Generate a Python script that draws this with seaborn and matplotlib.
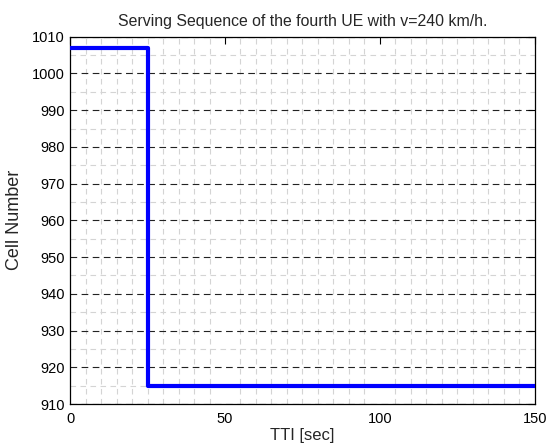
import matplotlib
matplotlib.use("Agg")
import matplotlib.pyplot as plt
import seaborn as sns
import pandas as pd
from matplotlib.ticker import MultipleLocator

sns.set_style("white")
plt.rcParams["font.family"] = ["Liberation Sans", "DejaVu Sans"]

# Serving cell of the UE over time (handover at TTI 25)
tti = [0, 25, 150]
cell = [1007, 915, 915]

x_ticks = [0, 50, 100, 150]
y_ticks = list(range(910, 1011, 10))

df = pd.DataFrame({"TTI": tti, "Cell": cell})

fig = plt.figure(figsize=(5.47, 4.47), dpi=100)
ax = fig.add_axes([0.128, 0.096, 0.850, 0.822])

sns.lineplot(data=df, x="TTI", y="Cell", ax=ax, estimator=None,
             drawstyle="steps-post", color="#0000ff", linewidth=3.0, zorder=5)

ax.set_xlim(0, 150)
ax.set_ylim(910, 1010)
ax.set_xticks(x_ticks)
ax.set_yticks(y_ticks)
ax.xaxis.set_minor_locator(MultipleLocator(5))
ax.yaxis.set_minor_locator(MultipleLocator(5))

# minor grid: faint dashes in both directions
ax.grid(which="minor", axis="both", color="#d4d4d4", linestyle=(0, (5, 4)),
        linewidth=0.8)
# major grid: dark dashes on the cell-number levels only
ax.grid(which="major", axis="y", color="#222222", linestyle=(0, (6, 4)),
        linewidth=0.8)
ax.grid(which="major", axis="x", visible=False)
ax.set_axisbelow(True)

ax.tick_params(which="major", direction="in", length=5, width=0.8,
               top=True, right=True, labelsize=10.5, colors="black")
ax.tick_params(axis="x", which="major", pad=6)
ax.tick_params(axis="y", which="major", pad=4)
ax.tick_params(which="minor", length=0)

for s in ax.spines.values():
    s.set_visible(True)
    s.set_color("black")
    s.set_linewidth(0.9)

ax.set_title("Serving Sequence of the fourth UE with v=240 km/h.",
             fontsize=11.4, pad=8)
ax.set_xlabel("TTI [sec]", fontsize=12, labelpad=1)
ax.set_ylabel("Cell Number", fontsize=13, labelpad=6)

fig.savefig("out.png", dpi=100)
